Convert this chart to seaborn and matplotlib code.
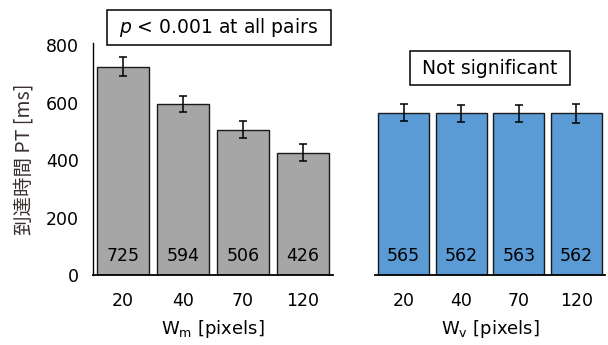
import matplotlib
matplotlib.use("Agg")
import matplotlib.pyplot as plt
import seaborn as sns
import pandas as pd
from matplotlib.patches import Rectangle

sns.set_theme(style="white")
plt.rcParams['font.family'] = ['DejaVu Sans']
plt.rcParams['mathtext.fontset'] = 'dejavusans'

categories = ["20", "40", "70", "120"]
wm_values = [725, 594, 506, 426]
wm_errors = [33, 28, 29, 28]
wv_values = [565, 562, 563, 562]
wv_errors = [29, 29, 30, 32]

ylabel = "到達時間 PT [ms]"
xlabel_left = r"W$_\mathregular{m}$ [pixels]"
xlabel_right = r"W$_\mathregular{v}$ [pixels]"
note_left = r"$p$ < 0.001 at all pairs"
note_right = "Not significant"

FS = 12.5
W, H = 608, 345
fig = plt.figure(figsize=(6.08, 3.45), dpi=100)
bottom = (H - 275) / H
height = (275 - 43) / H
ax1 = fig.add_axes([93 / W, bottom, 240 / W, height])
ax2 = fig.add_axes([375 / W, bottom, 230 / W, height])

def draw(ax, values, errors, color):
    df = pd.DataFrame({"cat": categories, "val": values})
    sns.barplot(data=df, x="cat", y="val", ax=ax, color=color, saturation=1,
                errorbar=None, width=0.88, edgecolor="#1a1a1a", linewidth=1.0)
    for p, v, e in zip(ax.patches, values, errors):
        cx = p.get_x() + p.get_width() / 2
        ax.errorbar(cx, v, yerr=e, fmt="none", ecolor="black", elinewidth=1.1,
                    capsize=3.2, capthick=1.1)
        ax.text(cx, 34, str(v), ha="center", va="bottom", fontsize=FS, color="black")
    ax.set_ylim(0, 807)
    ax.set_xlim(-0.5, 3.5)
    ax.tick_params(axis="both", length=0, labelsize=FS, colors="black", pad=12)
    for s in ["top", "right"]:
        ax.spines[s].set_visible(False)
    ax.spines["bottom"].set_color("black")
    ax.spines["left"].set_color("black")
    ax.spines["bottom"].set_linewidth(1.3)
    ax.spines["left"].set_linewidth(1.0)

draw(ax1, wm_values, wm_errors, "#a6a6a6")
draw(ax2, wv_values, wv_errors, "#5b9bd5")

ax1.set_yticks([0, 200, 400, 600, 800])
ax1.tick_params(axis="y", pad=10)
ax1.set_ylabel(ylabel, fontsize=14, color="#3a3030",
               family=['Noto Sans CJK JP', 'DejaVu Sans'], labelpad=8)
ax1.set_xlabel(xlabel_left, fontsize=13, color="black", labelpad=6)
ax2.set_yticks([])
ax2.set_ylabel("")
ax2.spines["left"].set_visible(False)
ax2.set_xlabel(xlabel_right, fontsize=13, color="black", labelpad=6)

def note(x0, x1, y0, y1, text):
    fig.patches.append(Rectangle((x0 / W, 1 - y1 / H), (x1 - x0) / W, (y1 - y0) / H,
                                 transform=fig.transFigure, fill=False,
                                 edgecolor="black", linewidth=1.1))
    fig.text((x0 + x1) / 2 / W, 1 - (y0 + y1) / 2 / H, text, ha="center",
             va="center", fontsize=13.5, color="black")

note(107, 331, 10, 45, note_left)
note(410, 570, 51, 85, note_right)

fig.savefig("out.png", dpi=100)
